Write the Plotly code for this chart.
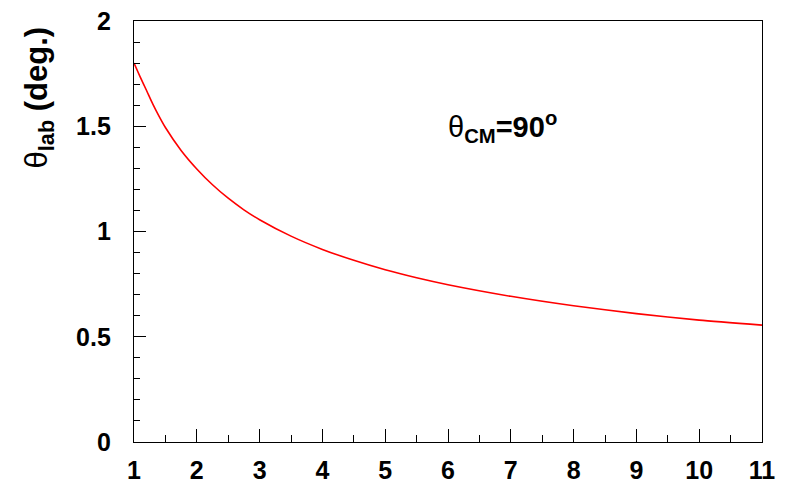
import plotly.graph_objects as go

# Data
x_vals = [1.0, 1.1, 1.2, 1.3, 1.4, 1.5, 1.75, 2.0, 2.25, 2.5, 2.75, 3.0, 3.5, 4.0, 4.5,
          5.0, 5.5, 6.0, 7.0, 8.0, 9.0, 10.0, 11.0]
theta_lab = [1.80, 1.733, 1.670, 1.605, 1.547, 1.494, 1.385, 1.297, 1.222, 1.158, 1.103, 1.056,
             0.978, 0.915, 0.863, 0.818, 0.78, 0.747, 0.692, 0.647, 0.61, 0.579, 0.555]

x_ticks = [1, 2, 3, 4, 5, 6, 7, 8, 9, 10, 11]
y_ticks = [0, 0.5, 1, 1.5, 2]
y_tick_labels = ["0", "0.5", "1", "1.5", "2"]

FONT = "Liberation Sans, Arial, Helvetica, sans-serif"

fig = go.Figure()
fig.add_trace(go.Scatter(
    x=x_vals, y=theta_lab, mode="lines",
    line=dict(color="#ff0000", width=1.6, shape="spline", smoothing=0.6),
    hoverinfo="skip", showlegend=False,
))

axis_common = dict(
    showgrid=False, zeroline=False, automargin=False,
    showline=True, linecolor="black", linewidth=1.3, mirror=True,
    ticks="inside", tickcolor="black", tickwidth=1.2,
    tickfont=dict(family=FONT, size=25, color="black", weight="bold"),
)

fig.update_xaxes(
    range=[1, 11], tickmode="array", tickvals=x_ticks, ticktext=[str(v) for v in x_ticks],
    ticklen=13, ticklabelstandoff=6,
    minor=dict(dtick=0.5, tick0=1, ticklen=7, ticks="inside", tickcolor="black", tickwidth=1.2),
    **axis_common,
)
fig.update_yaxes(
    range=[0, 2], tickmode="array", tickvals=y_ticks, ticktext=y_tick_labels,
    ticklen=12, ticklabelstandoff=17,
    minor=dict(dtick=0.1, tick0=0, ticklen=6, ticks="inside", tickcolor="black", tickwidth=1.2),
    **axis_common,
)

fig.add_annotation(
    xref="paper", yref="paper", x=-0.1506, y=1.0, xanchor="center", yanchor="top",
    yshift=-3,
    text="θ<sub><b>lab</b></sub><b> (deg.)</b>", textangle=-90, showarrow=False,
    font=dict(family=FONT, size=31, color="black"),
)
fig.add_annotation(
    xref="x", yref="y", x=6.86, y=1.496, xanchor="center", yanchor="middle",
    text="θ<sub><b>CM</b></sub><b>=90<sup>o</sup></b>", showarrow=False,
    font=dict(family=FONT, size=29, color="black"),
)

fig.update_layout(
    width=790, height=483,
    margin=dict(l=134, r=28, t=21, b=41),
    paper_bgcolor="white", plot_bgcolor="white",
)

fig.write_html("out.html")
